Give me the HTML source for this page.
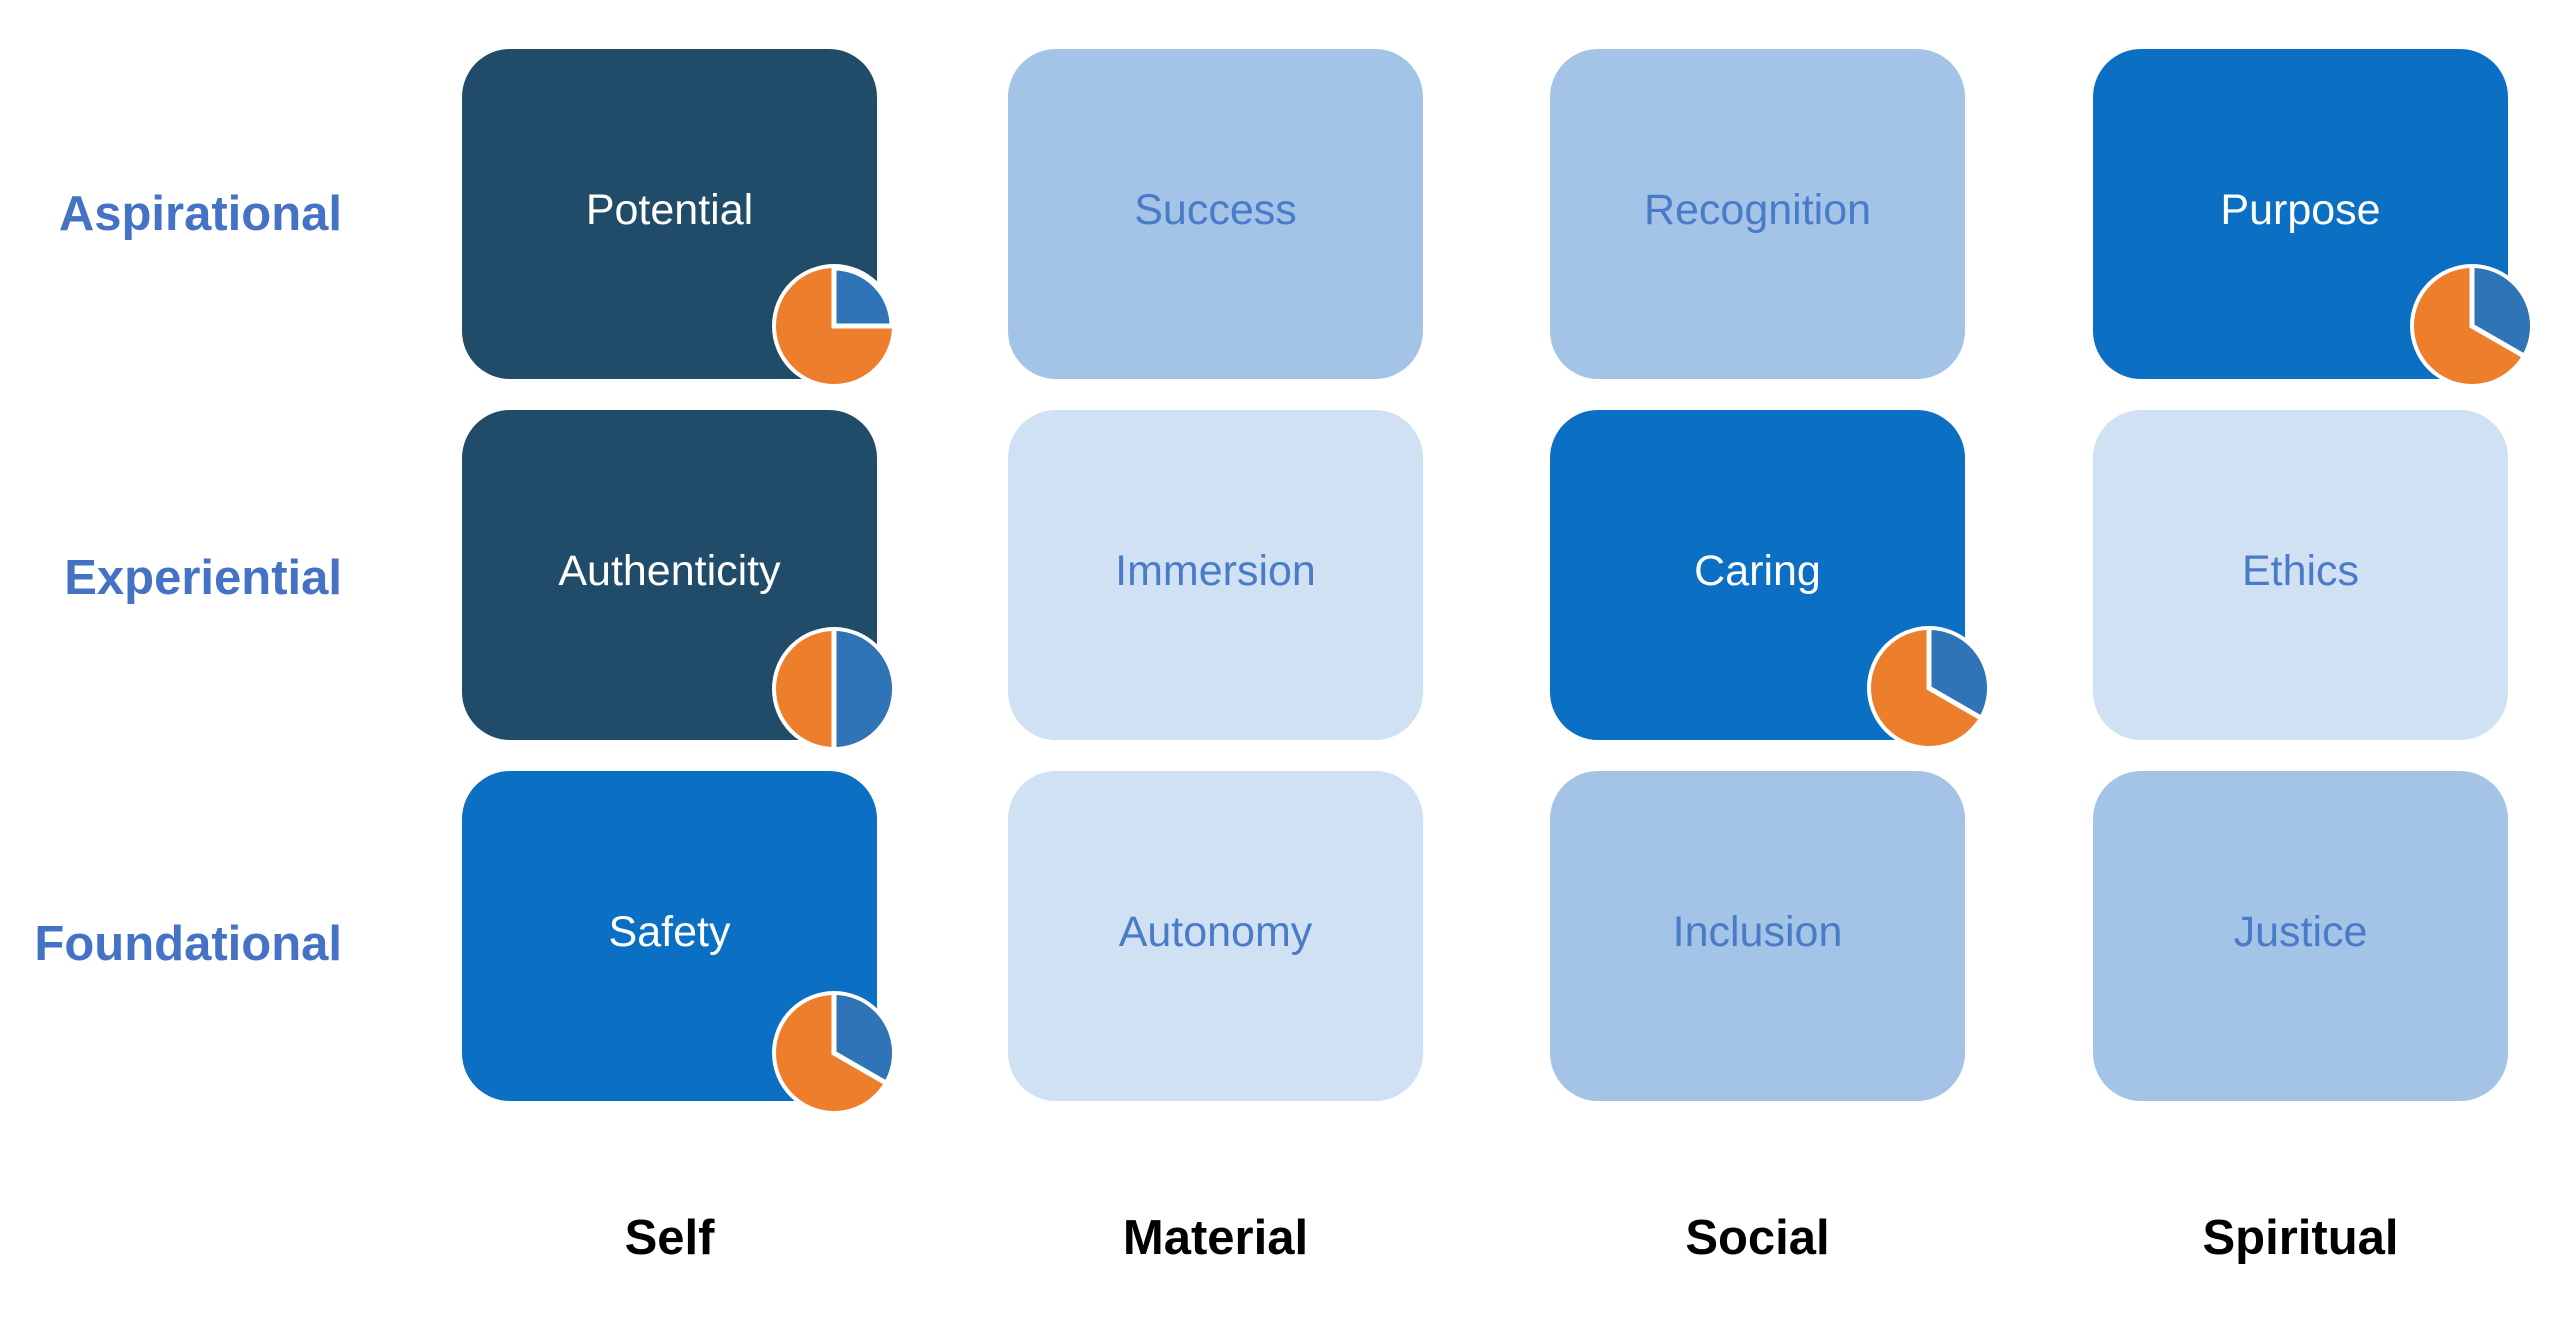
<!DOCTYPE html>
<html><head><meta charset="utf-8"><style>
html,body{margin:0;padding:0;background:#fff;}
body{width:2560px;height:1321px;position:relative;overflow:hidden;font-family:"Liberation Sans",sans-serif;}
.b{position:absolute;width:415px;height:330px;border-radius:48px;display:flex;align-items:center;justify-content:center;font-size:43px;box-sizing:border-box;padding-bottom:8px;}
.d{background:#214C69;color:#fff}.m{background:#0B70C3;color:#fff}
.l1{background:#A3C4E7;color:#4A7BC9}.l2{background:#CFE1F2;color:#4A7BC9}
.r{position:absolute;right:2218px;font-size:49px;font-weight:bold;color:#4472C4;transform:translateY(-50%);white-space:nowrap}
.c{position:absolute;width:415px;text-align:center;font-size:49px;font-weight:bold;color:#000;top:1210px}
svg{position:absolute;left:0;top:0}
</style></head><body>
<div class="r" style="top:214px">Aspirational</div>
<div class="r" style="top:578px">Experiential</div>
<div class="r" style="top:944px">Foundational</div>

<div class="b d" style="left:462px;top:49px">Potential</div>
<div class="b l1" style="left:1008px;top:49px">Success</div>
<div class="b l1" style="left:1550px;top:49px">Recognition</div>
<div class="b m" style="left:2093px;top:49px">Purpose</div>

<div class="b d" style="left:462px;top:410px">Authenticity</div>
<div class="b l2" style="left:1008px;top:410px">Immersion</div>
<div class="b m" style="left:1550px;top:410px">Caring</div>
<div class="b l2" style="left:2093px;top:410px">Ethics</div>

<div class="b m" style="left:462px;top:771px">Safety</div>
<div class="b l2" style="left:1008px;top:771px">Autonomy</div>
<div class="b l1" style="left:1550px;top:771px">Inclusion</div>
<div class="b l1" style="left:2093px;top:771px">Justice</div>

<div class="c" style="left:462px">Self</div>
<div class="c" style="left:1008px">Material</div>
<div class="c" style="left:1550px">Social</div>
<div class="c" style="left:2093px">Spiritual</div>

<svg width="2560" height="1321" viewBox="0 0 2560 1321">
<defs>
<g id="p25"><circle r="62" fill="#fff"/><circle r="58" fill="#EC7E2C"/><path d="M0,0 L0,-58 A58,58 0 0 1 58,0 Z" fill="#2E74B6" stroke="#fff" stroke-width="5" stroke-linejoin="round"/><path d="M0,-58 L0,0 L58,0" fill="none" stroke="#fff" stroke-width="5"/></g>
<g id="p50"><circle r="62" fill="#fff"/><circle r="58" fill="#EC7E2C"/><path d="M0,-58 A58,58 0 0 1 0,58 Z" fill="#2E74B6"/><path d="M0,-60 L0,60" stroke="#fff" stroke-width="5"/></g>
<g id="p33"><circle r="62" fill="#fff"/><circle r="58" fill="#EC7E2C"/><path d="M0,0 L0,-58 A58,58 0 0 1 50.2,29 Z" fill="#2E74B6"/><path d="M0,-60 L0,0 L52,30" fill="none" stroke="#fff" stroke-width="5"/></g>
</defs>
<use href="#p25" x="834" y="326"/>
<use href="#p50" x="834" y="689"/>
<use href="#p33" x="834" y="1053"/>
<use href="#p33" x="2472" y="326"/>
<use href="#p33" x="1929" y="688"/>
</svg>
</body></html>
